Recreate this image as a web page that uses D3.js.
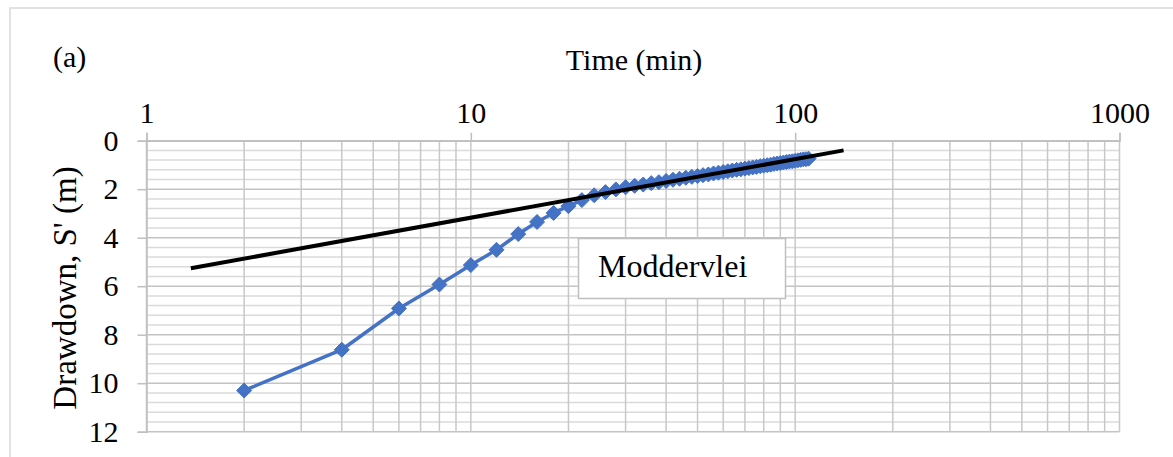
<!DOCTYPE html>
<html>
<head>
<meta charset="utf-8">
<script src="https://cdn.jsdelivr.net/npm/d3@7"></script>
<style>
  body { margin: 0; background: #fff; }
  svg text { font-family: "Liberation Serif", "Times New Roman", Tinos, "DejaVu Serif", serif; fill: #000; }
</style>
</head>
<body>
<svg id="chart"></svg>
<script>
// observed drawdown (recovery) readings, Moddervlei
var times = [2, 4, 6, 8, 10, 12, 14, 16, 18, 20, 22, 24, 26, 28, 30, 32, 34, 36, 38, 40,
    42, 44, 46, 48, 50, 52, 54, 56, 58, 60, 62, 64, 66, 68, 70, 72, 74, 76, 78, 80,
    82, 84, 86, 88, 90, 92, 94, 96, 98, 100, 102, 104, 106, 108, 110]
var drawdown = [10.30, 8.62, 6.92, 5.93, 5.13, 4.50, 3.85, 3.35, 2.98, 2.70, 2.45, 2.25, 2.12, 2.01, 1.92, 1.86, 1.81, 1.75, 1.71, 1.66,
    1.61, 1.57, 1.53, 1.49, 1.46, 1.42, 1.39, 1.35, 1.32, 1.29, 1.26, 1.23, 1.20, 1.18, 1.15, 1.13, 1.10, 1.08, 1.05, 1.03,
    1.01, 0.99, 0.96, 0.94, 0.92, 0.90, 0.88, 0.86, 0.85, 0.83, 0.81, 0.79, 0.77, 0.76, 0.74]

// straight-line fit drawn on the semi-log plot
var fitTimes = [1.37, 141]
var fitDrawdown = [5.26, 0.40]

var xTicks = [1, 10, 100, 1000]
var yTicks = [0, 2, 4, 6, 8, 10, 12]
var legendLabel = "Moddervlei"

var serif = "'Liberation Serif', 'Times New Roman', Tinos, 'DejaVu Serif', serif"

var width = 1173, height = 457
var svg = d3.select("#chart")
    .attr("width", width)
    .attr("height", height)

var x = d3.scaleLog().domain([1, 1000]).range([146.5, 1119.5])
var y = d3.scaleLinear().domain([0, 12]).range([140.7, 431.7])

// chart area border
svg.append("rect")
    .attr("x", 10).attr("y", 8)
    .attr("width", 1200).attr("height", 500)
    .attr("fill", "none")
    .attr("stroke", "#d9d9d9")
    .attr("stroke-width", 1.5)

var grid = svg.append("g")

// horizontal grid, minor every 0.4
var hLines = d3.range(0, 31).map(i => i * 0.4)
grid.selectAll(".hgrid")
    .data(hLines)
    .enter()
    .append("line")
        .attr("x1", x(1)).attr("x2", x(1000))
        .attr("y1", d => y(d)).attr("y2", d => y(d))
        .attr("stroke", (d, i) => i % 5 == 0 ? "#c4c4c4" : "#dadada")
        .attr("stroke-width", 1.5)

// vertical grid, 1..9 in each decade
var vLines = []
xTicks.slice(0, 3).forEach(dec => {
    for (var k = 1; k < 10; k++) vLines.push(dec * k)
})
vLines.push(1000)
grid.selectAll(".vgrid")
    .data(vLines)
    .enter()
    .append("line")
        .attr("x1", d => x(d)).attr("x2", d => x(d))
        .attr("y1", y(0)).attr("y2", y(12))
        .attr("stroke", "#c8c8c8")
        .attr("stroke-width", 1.5)

// axes: x on top (drawdown increases downward)
var xAxis = svg.append("g")
    .attr("transform", "translate(0," + y(0) + ")")
    .call(d3.axisTop(x).tickValues(xTicks).tickFormat(d3.format("d")).tickSizeOuter(0).tickSize(8).tickPadding(10))
xAxis.attr("font-family", null)
xAxis.select(".domain").attr("stroke", "#bfbfbf").attr("stroke-width", 1.5)
xAxis.selectAll(".tick line").attr("stroke", "#bfbfbf").attr("stroke-width", 1.5)
xAxis.selectAll(".tick text")
    .style("font-family", serif)
    .style("font-size", "30px")
    .attr("fill", "#000")

var yAxis = svg.append("g")
    .attr("transform", "translate(" + x(1) + ",0)")
    .call(d3.axisLeft(y).tickValues(yTicks).tickSizeOuter(0).tickSize(9).tickPadding(19))
yAxis.attr("font-family", null)
yAxis.select(".domain").attr("stroke", "#bfbfbf").attr("stroke-width", 1.5)
yAxis.selectAll(".tick line").attr("stroke", "#bfbfbf").attr("stroke-width", 1.5)
yAxis.selectAll(".tick text")
    .style("font-family", serif)
    .style("font-size", "30px")
    .attr("fill", "#000")

// titles
svg.append("text")
    .attr("x", 634).attr("y", 70)
    .attr("text-anchor", "middle")
    .style("font-family", serif)
    .style("font-size", "30px")
    .text("Time (min)")

svg.append("text")
    .attr("transform", "translate(76,288) rotate(-90)")
    .attr("text-anchor", "middle")
    .style("font-family", serif)
    .style("font-size", "33px")
    .text("Drawdown, S' (m)")

svg.append("text")
    .attr("x", 53).attr("y", 67)
    .style("font-family", serif)
    .style("font-size", "30px")
    .text("(a)")

// observed series
var obs = times.map((t, i) => [t, drawdown[i]])
var line = d3.line()
    .x(d => x(d[0]))
    .y(d => y(d[1]))

svg.append("path")
    .datum(obs)
    .attr("d", line)
    .attr("fill", "none")
    .attr("stroke", "#4472c4")
    .attr("stroke-width", 3.5)
    .attr("stroke-linejoin", "round")

svg.selectAll(".marker")
    .data(obs)
    .enter()
    .append("path")
        .attr("class", "marker")
        .attr("transform", d => "translate(" + x(d[0]) + "," + y(d[1]) + ")")
        .attr("d", "M0,-7.5L7.5,0L0,7.5L-7.5,0Z")
        .attr("fill", "#4472c4")
        .attr("stroke", "#4472c4")
        .attr("stroke-width", 1)

// fitted straight line
svg.append("path")
    .datum(fitTimes.map((t, i) => [t, fitDrawdown[i]]))
    .attr("d", line)
    .attr("fill", "none")
    .attr("stroke", "#000")
    .attr("stroke-width", 4)

// label box
svg.append("rect")
    .attr("x", 578.5).attr("y", 238.5)
    .attr("width", 207).attr("height", 60)
    .attr("fill", "#fff")
    .attr("stroke", "#bfbfbf")
    .attr("stroke-width", 1.5)

svg.append("text")
    .attr("x", 598).attr("y", 277)
    .style("font-family", serif)
    .style("font-size", "32px")
    .text(legendLabel)
</script>
</body>
</html>
